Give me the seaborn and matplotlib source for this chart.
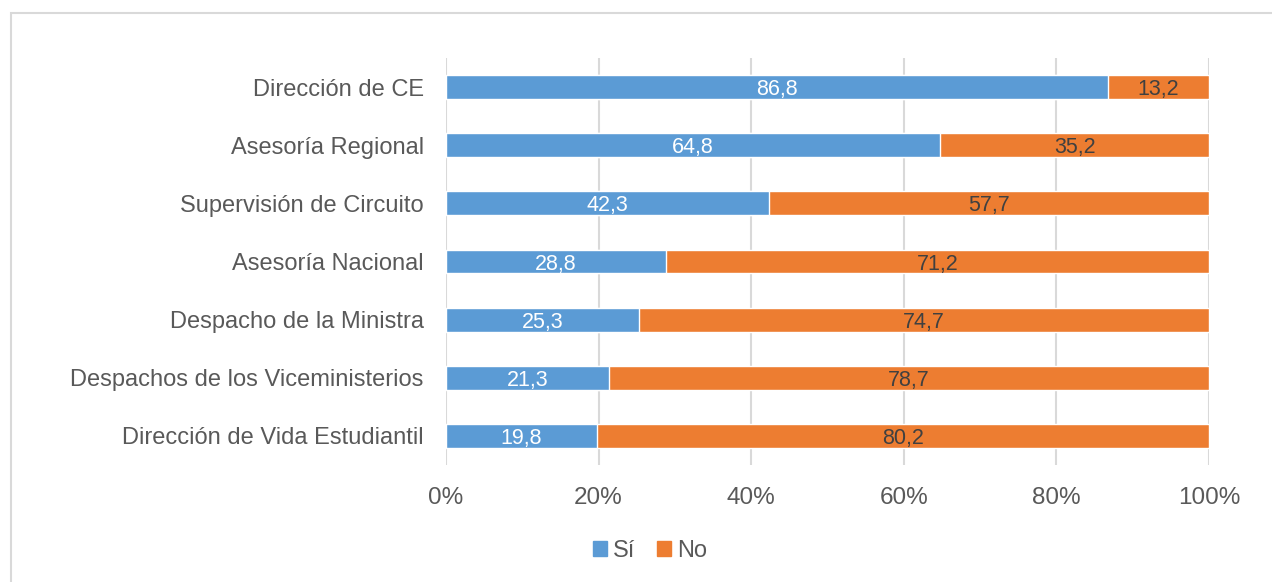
import matplotlib
matplotlib.use("Agg")
import matplotlib.pyplot as plt
import seaborn as sns
import pandas as pd
from matplotlib.patches import Rectangle, Patch
from matplotlib.ticker import FuncFormatter

categorias = [
    "Dirección de CE",
    "Asesoría Regional",
    "Supervisión de Circuito",
    "Asesoría Nacional",
    "Despacho de la Ministra",
    "Despachos de los Viceministerios",
    "Dirección de Vida Estudiantil",
]
si = [86.8, 64.8, 42.3, 28.8, 25.3, 21.3, 19.8]
no = [13.2, 35.2, 57.7, 71.2, 74.7, 78.7, 80.2]

azul = "#5B9BD5"
naranja = "#ED7D31"
gris_texto = "#595959"

sns.set_theme(style="white")
plt.rcParams["font.family"] = ["Liberation Sans", "DejaVu Sans"]

df = pd.DataFrame({"cat": categorias, "si": si, "no": no})
df["total"] = df["si"] + df["no"]

fig = plt.figure(figsize=(12.72, 5.82), dpi=100)
ax = fig.add_axes([446 / 1272, 1 - 465 / 582, (1209 - 446) / 1272, (465 - 58) / 582])

# orange bar spans full width, blue drawn on top
sns.barplot(data=df, x="total", y="cat", color=naranja, width=0.41,
            saturation=1, ax=ax, orient="h")
sns.barplot(data=df, x="si", y="cat", color=azul, width=0.41,
            saturation=1, ax=ax, orient="h")

for i, (s, n) in enumerate(zip(si, no)):
    ax.text(s / 2, i, f"{s:.1f}".replace(".", ","), ha="center", va="center_baseline",
            color="white", fontsize=15.5)
    ax.text(s + n / 2, i, f"{n:.1f}".replace(".", ","), ha="center", va="center_baseline",
            color="#404040", fontsize=15.5)

ax.set_xlim(0, 100)
ax.set_xticks([0, 20, 40, 60, 80, 100])
ax.xaxis.set_major_formatter(FuncFormatter(lambda v, p: f"{v:.0f}%"))
ax.grid(axis="x", color="#d9d9d9", linewidth=1.5)
ax.set_axisbelow(True)
for sp in ax.spines.values():
    sp.set_visible(False)
ax.set_xlabel("")
ax.set_ylabel("")
ax.tick_params(axis="x", labelsize=17.5, colors=gris_texto, length=0, pad=16)
ax.tick_params(axis="y", labelsize=17, colors=gris_texto, length=0, pad=16)

# outer chart frame (cut off at right and bottom)
fig.patches.append(Rectangle((11 / 1272, -0.1), 1.2, 1 - 13 / 582 + 0.1,
                             transform=fig.transFigure, fill=False,
                             edgecolor="#d9d9d9", linewidth=1.5))

handles = [Patch(color=azul, label="Sí"), Patch(color=naranja, label="No")]
fig.legend(handles=handles, loc="center", bbox_to_anchor=(650 / 1272, 1 - 551 / 582),
           ncol=2, frameon=False, fontsize=17, handlelength=0.6, handleheight=0.6,
           handletextpad=0.25, columnspacing=0.9, labelcolor=gris_texto)

fig.savefig("out.png", dpi=100)
